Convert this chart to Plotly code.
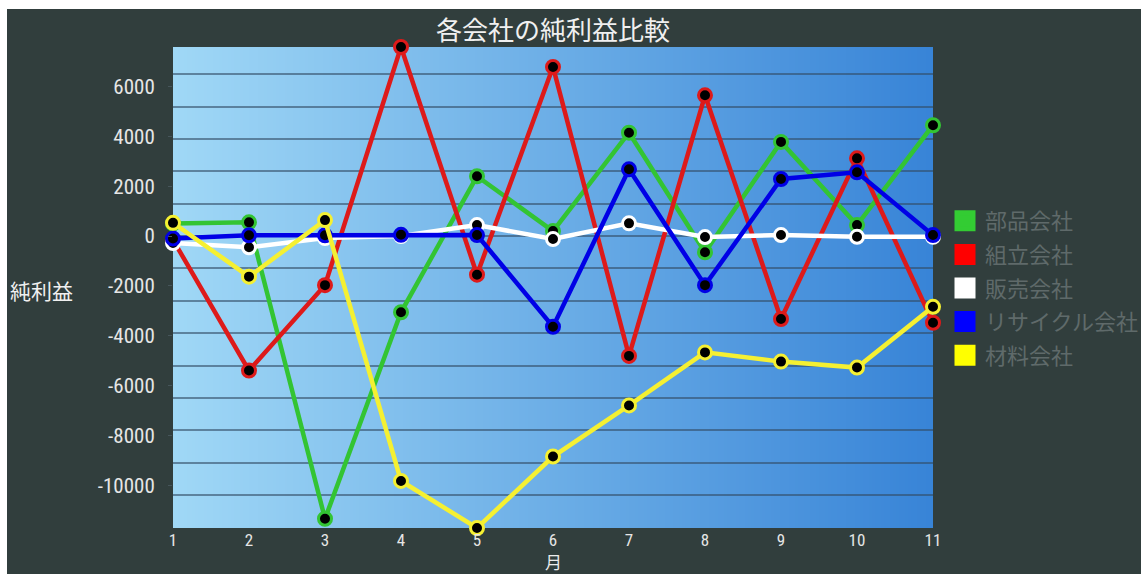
import base64
import struct
import zlib

import plotly.graph_objects as go

# ---------------- data ----------------
months = [1, 2, 3, 4, 5, 6, 7, 8, 9, 10, 11]
series_names = ["部品会社", "組立会社", "販売会社", "リサイクル会社", "材料会社"]
parts = [500, 550, -11350, -3060, 2400, 200, 4150, -650, 3780, 440, 4450]
assembly = [-150, -5400, -1970, 7590, -1550, 6790, -4810, 5650, -3330, 3120, -3480]
sales = [-280, -450, -80, 0, 440, -120, 510, -40, 40, -30, -30]
recycle = [-100, 30, 30, 50, 40, -3640, 2680, -1970, 2290, 2560, 40]
material = [530, -1630, 640, -9830, -11720, -8850, -6800, -4670, -5040, -5280, -2840]
y_tick_values = [6000, 4000, 2000, 0, -2000, -4000, -6000, -8000, -10000]
y_tick_labels = ["6000", "4000", "2000", "0", "-2000", "-4000", "-6000", "-8000", "-10000"]
grid_step = 1300

values = [parts, assembly, sales, recycle, material]
line_colors = ["#33c433", "#dd1a1a", "#ffffff", "#0000e6", "#f5f032"]
legend_colors = ["#33cc33", "#ff0000", "#ffffff", "#0000ff", "#ffff00"]

# ---------------- styles ----------------
BG = "#313e3d"
CJK = "Noto Sans CJK JP"
NUMFONT = "Roboto Condensed, Liberation Sans Narrow, DejaVu Sans Condensed, Roboto, sans-serif"

W, H = 1141, 574
ML, MR, MT, MB = 173, 208, 47, 46
PW, PH = W - ML - MR, H - MT - MB


def px_x(p):
    return (p - ML) / PW


def px_y(p):
    return (H - MB - p) / PH


def gradient_png(c0, c1, w=256, h=2):
    row = b"\x00"
    for i in range(w):
        t = i / (w - 1)
        row += bytes(int(round(a + (b - a) * t)) for a, b in zip(c0, c1))
    raw = row * h

    def chunk(tag, data):
        c = struct.pack(">I", len(data)) + tag + data
        return c + struct.pack(">I", zlib.crc32(tag + data) & 0xFFFFFFFF)

    png = b"\x89PNG\r\n\x1a\n"
    png += chunk(b"IHDR", struct.pack(">IIBBBBB", w, h, 8, 2, 0, 0, 0))
    png += chunk(b"IDAT", zlib.compress(raw, 9))
    png += chunk(b"IEND", b"")
    return "data:image/png;base64," + base64.b64encode(png).decode()


bg_img = gradient_png((160, 216, 246), (56, 132, 215))

all_vals = [v for s in values for v in s]
ymin, ymax = min(all_vals), max(all_vals)

fig = go.Figure()

for name, vals, col in zip(series_names, values, line_colors):
    fig.add_trace(go.Scatter(
        x=months, y=vals, name=name, mode="lines+markers",
        line=dict(color=col, width=4.5),
        marker=dict(color="#000000", size=13, line=dict(color=col, width=3)),
        cliponaxis=False, showlegend=False,
    ))

# legend swatches (square)
for i, (name, col) in enumerate(zip(series_names, legend_colors)):
    fig.add_trace(go.Scatter(
        x=[None], y=[None], name=name, mode="markers", yaxis="y2",
        legendgroup=f"g{i}",
        marker=dict(symbol="square", color=col, size=16, line=dict(color=col, width=5)),
        showlegend=True,
    ))

fig.update_layout(
    width=W, height=H,
    margin=dict(l=ML, r=MR, t=MT, b=MB, autoexpand=False),
    paper_bgcolor=BG,
    plot_bgcolor="rgba(0,0,0,0)",
    title=dict(
        text="各会社の純利益比較", x=0.5, xref="paper", xanchor="center",
        y=1 - 31 / H, yref="container", yanchor="middle",
        font=dict(family=CJK, size=26, color="#f0f0f0"),
    ),
    xaxis=dict(
        range=[1, 11], tickvals=months, ticktext=[str(m) for m in months],
        showgrid=False, zeroline=False, showline=False, ticks="",
        tickfont=dict(family=NUMFONT, size=17, color="#e6e6e6"),
        ticklabelstandoff=0,
    ),
    yaxis=dict(
        range=[ymin, ymax], tickvals=y_tick_values, ticktext=y_tick_labels,
        showgrid=False, zeroline=False, showline=False,
        ticks="outside", ticklen=4, tickcolor="#46555a",
        tickfont=dict(family=NUMFONT, size=21, color="#e6e6e6"),
        ticklabelstandoff=9,
    ),
    yaxis2=dict(
        range=[ymin, ymax], overlaying="y", tick0=0, dtick=grid_step,
        showgrid=True, gridcolor="rgba(50,75,100,0.6)", gridwidth=1.5,
        showticklabels=False, zeroline=False, ticks="",
    ),
    legend=dict(
        x=px_x(945), xanchor="left", y=px_y(200), yanchor="top",
        bgcolor="rgba(0,0,0,0)", traceorder="grouped", tracegroupgap=2,
        font=dict(family=CJK, size=22, color="#5f6a6a"),
    ),
    images=[dict(
        source=bg_img, xref="paper", yref="paper", x=0, y=1, sizex=1, sizey=1,
        xanchor="left", yanchor="top", sizing="stretch", layer="below",
    )],
    shapes=[
        dict(type="rect", xref="paper", yref="paper", x0=px_x(0), x1=px_x(7),
             y0=px_y(H), y1=px_y(0), fillcolor="#ffffff", line=dict(width=0), layer="above"),
        dict(type="rect", xref="paper", yref="paper", x0=px_x(0), x1=px_x(W),
             y0=px_y(9), y1=px_y(0), fillcolor="#ffffff", line=dict(width=0), layer="above"),
    ],
    annotations=[
        dict(
            text="純利益", xref="paper", yref="paper", x=px_x(8), y=px_y(290),
            xanchor="left", yanchor="middle", showarrow=False,
            font=dict(family=CJK, size=21, color="#f0f0f0"),
        ),
        dict(
            text="月", xref="paper", yref="paper", x=0.5, y=px_y(561),
            xanchor="center", yanchor="middle", showarrow=False,
            font=dict(family=CJK, size=17, color="#ececec"),
        ),
    ],
)

fig.write_html("out.html")
